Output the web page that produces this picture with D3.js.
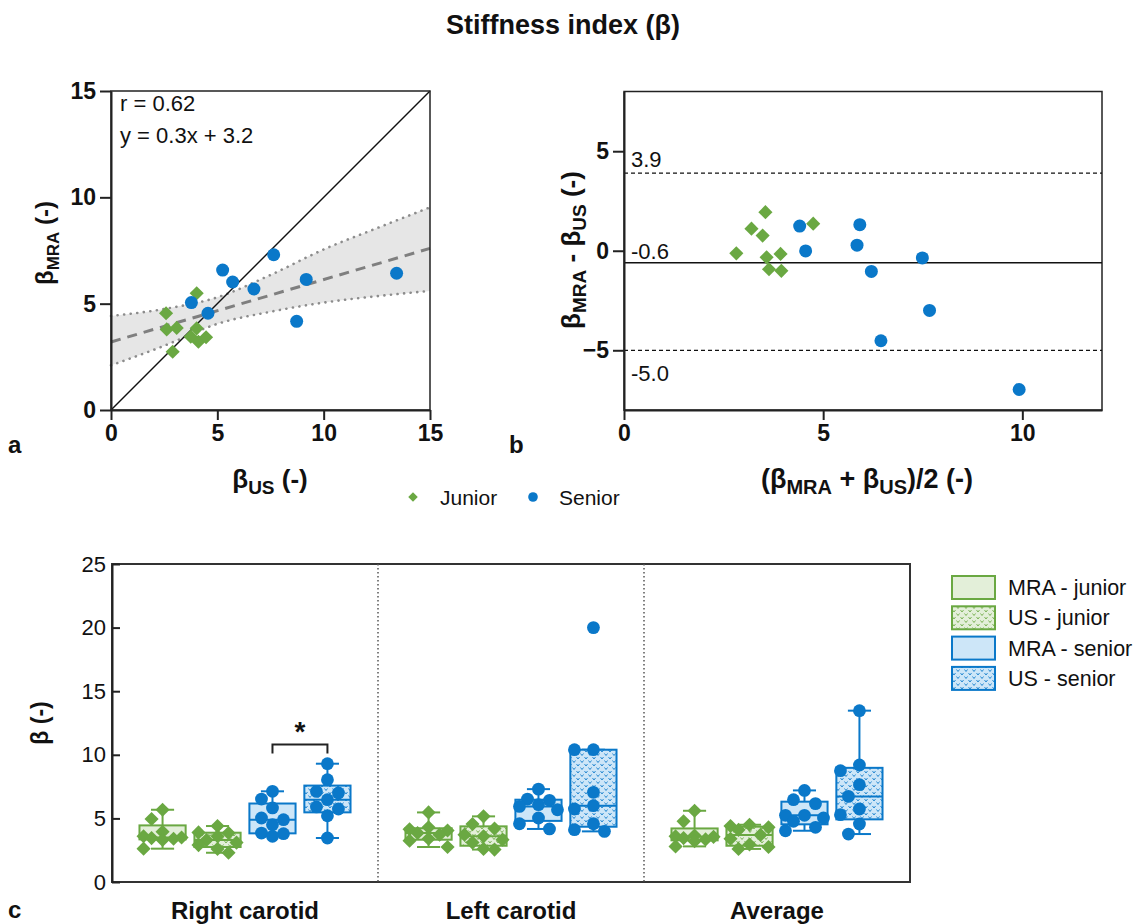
<!DOCTYPE html>
<html><head><meta charset="utf-8">
<script src="https://cdn.jsdelivr.net/npm/d3@7"></script>
<style>body{margin:0;background:#fff;} svg{font-family:"Liberation Sans",Arial,Helvetica,sans-serif;}</style>
</head><body><svg id="c" width="1139" height="924"></svg>
<script>
// ---------- DATA ----------
// Panel a: scatter (x = beta US, y = beta MRA)
const juniorUS  = [4.03, 2.59, 2.62, 3.09, 4.03, 3.75, 4.11, 4.47, 2.90];
const juniorMRA = [5.49, 4.55, 3.79, 3.86, 3.84, 3.45, 3.21, 3.42, 2.74];
const seniorUS  = [7.65, 5.25, 5.72, 6.72, 9.18, 13.43, 8.73, 3.78, 4.56];
const seniorMRA = [7.30, 6.58, 6.02, 5.69, 6.14, 6.43, 4.17, 5.05, 4.55];
const regX   = [0, 15];
const regY   = [3.2, 7.6];
const bandX  = [0, 2.5, 5, 7.5, 10, 12.5, 15];
const bandHi = [4.42, 4.75, 5.3, 6.35, 7.55, 8.55, 9.53];
const bandLo = [2.1, 3.02, 4.05, 4.62, 5.05, 5.35, 5.6];
const statTexts = ["r = 0.62", "y = 0.3x + 3.2"];
const aTicks = [0, 5, 10, 15];

// Panel b: Bland-Altman
const baJuniorMean = [3.55, 3.20, 3.48, 4.75, 2.82, 3.58, 3.93, 3.64, 3.95];
const baJuniorDiff = [1.94, 1.11, 0.76, 1.36, -0.13, -0.33, -0.16, -0.93, -1.01];
const baSeniorMean = [4.41, 4.56, 5.92, 5.85, 7.49, 6.21, 7.67, 6.45, 9.92];
const baSeniorDiff = [1.24, -0.01, 1.31, 0.28, -0.36, -1.04, -3.0, -4.52, -6.97];
const loaValues = [3.9, -0.6, -5.0];
const loaLabels = ["3.9", "-0.6", "-5.0"];
const bXTicks = [0, 5, 10];
const bYTicks = [-5, 0, 5];

// Panel c: box plots
const groups = ["Right carotid", "Left carotid", "Average"];
const seriesNames = ["MRA - junior", "US - junior", "MRA - senior", "US - senior"];
const mraJunior = [[5.68, 4.95, 3.95, 3.6, 3.5, 3.45, 3.4, 3.3, 2.62],
                   [5.47, 4.3, 4.15, 4.05, 3.85, 3.72, 3.4, 3.25, 2.75],
                   [5.6, 4.77, 3.65, 3.6, 3.55, 3.45, 3.35, 3.2, 2.8]];
const usJunior  = [[4.4, 3.9, 3.85, 3.6, 3.3, 3.1, 2.9, 2.6, 2.3],
                   [5.16, 4.55, 4.2, 3.72, 3.59, 3.33, 3.1, 2.6, 2.55],
                   [4.5, 4.4, 4.3, 4.1, 3.7, 3.4, 2.95, 2.75, 2.6]];
const mraSenior = [[7.13, 6.52, 5.82, 5.03, 4.9, 4.5, 3.85, 3.8, 3.59],
                   [7.3, 6.52, 6.42, 6.08, 5.94, 5.68, 5.03, 4.58, 4.17],
                   [7.2, 6.47, 6.16, 5.24, 5.24, 5.03, 4.77, 4.3, 4.03]];
const usSenior  = [[9.3, 8.04, 7.12, 7.0, 6.47, 5.9, 5.74, 5.21, 3.46],
                   [20.0, 10.4, 10.4, 7.05, 6.0, 5.74, 4.58, 4.11, 3.98],
                   [13.47, 9.2, 8.75, 7.65, 6.73, 5.74, 5.29, 4.56, 3.77]];
const cTicks = [0, 5, 10, 15, 20, 25];

// ---------- STYLE ----------
const GREEN = "#6aa842", BLUE = "#0a78c9", LG = "#e3efd9", LB = "#cde6f8";
const svg = d3.select("#c");
const defs = svg.append("defs");
function pattern(id, bg, fg) {
  const p = defs.append("pattern").attr("id", id).attr("width", 8).attr("height", 7)
    .attr("patternUnits", "userSpaceOnUse");
  p.append("rect").attr("width", 8).attr("height", 7).attr("fill", bg);
  p.append("path").attr("d", "M0.5,1 L2,3 L3.5,1 M4.5,4.5 L6,6.5 L7.5,4.5")
    .attr("stroke", fg).attr("fill", "none").attr("stroke-width", 1).attr("opacity", 0.85);
}
pattern("pg", LG, GREEN);
pattern("pb", LB, BLUE);
const seriesStroke = [GREEN, GREEN, BLUE, BLUE];
const seriesFill = [LG, "url(#pg)", LB, "url(#pb)"];

function drawDiamond(g, x, y, color, size) {
  g.append("path").attr("d", d3.symbol(d3.symbolSquare, size || 100)())
    .attr("transform", `translate(${x},${y}) rotate(45)`).attr("fill", color);
}
function drawCircle(g, x, y, color, r) {
  g.append("circle").attr("cx", x).attr("cy", y).attr("r", r || 6.5).attr("fill", color);
}
function styleAxis(g, size, bold) {
  g.selectAll("path.domain").attr("stroke", "#222").attr("stroke-width", 2);
  g.selectAll(".tick line").attr("stroke", "#222").attr("stroke-width", 2);
  g.selectAll(".tick text").attr("font-size", size).attr("font-weight", bold ? "bold" : "normal")
    .attr("fill", "#111").attr("font-family", '"Liberation Sans", Arial, sans-serif');
}
function subText(sel, parts, big, small) {
  let prevSub = false;
  parts.forEach(([t, sub]) => {
    const ts = sel.append("tspan").text(t).attr("font-size", sub ? small : big);
    if (sub && !prevSub) ts.attr("dy", 6);
    if (!sub && prevSub) ts.attr("dy", -6);
    prevSub = sub;
  });
}

// ---------- TITLE ----------
svg.append("text").attr("x", 563).attr("y", 34).attr("text-anchor", "middle")
  .attr("font-size", 27).attr("font-weight", "bold").attr("fill", "#111").text("Stiffness index (β)");

// ---------- PANEL A ----------
const ax = d3.scaleLinear().domain([0, 15]).range([111, 430]);
const ay = d3.scaleLinear().domain([0, 15]).range([410, 91]);
const ga = svg.append("g");
const bandData = bandX.map((x, i) => ({ x, lo: bandLo[i], hi: bandHi[i] }));
ga.append("path").datum(bandData)
  .attr("d", d3.area().x(d => ax(d.x)).y0(d => ay(d.lo)).y1(d => ay(d.hi)).curve(d3.curveMonotoneX))
  .attr("fill", "#e6e6e6");
["lo", "hi"].forEach(k => {
  ga.append("path").datum(bandData)
    .attr("d", d3.line().x(d => ax(d.x)).y(d => ay(d[k])).curve(d3.curveMonotoneX))
    .attr("fill", "none").attr("stroke", "#8c8c8c").attr("stroke-width", 2.6)
    .attr("stroke-dasharray", "0.1,6.5").attr("stroke-linecap", "round");
});
ga.append("line").attr("x1", ax(regX[0])).attr("y1", ay(regY[0])).attr("x2", ax(regX[1])).attr("y2", ay(regY[1]))
  .attr("stroke", "#7f7f7f").attr("stroke-width", 3).attr("stroke-dasharray", "10,7");
ga.append("line").attr("x1", ax(0)).attr("y1", ay(0)).attr("x2", ax(15)).attr("y2", ay(15))
  .attr("stroke", "#111").attr("stroke-width", 1.4);
ga.append("rect").attr("x", 111).attr("y", 91).attr("width", 319).attr("height", 319)
  .attr("fill", "none").attr("stroke", "#222").attr("stroke-width", 1.5);
juniorUS.forEach((x, i) => drawDiamond(ga, ax(x), ay(juniorMRA[i]), GREEN));
seniorUS.forEach((x, i) => drawCircle(ga, ax(x), ay(seniorMRA[i]), BLUE));
statTexts.forEach((t, i) => ga.append("text").attr("x", 120).attr("y", 111 + i * 32)
  .attr("font-size", 22).attr("fill", "#111").text(t));
const axA = ga.append("g").attr("transform", "translate(0,410)")
  .call(d3.axisBottom(ax).tickValues(aTicks).tickSize(10).tickSizeOuter(0).tickPadding(5));
styleAxis(axA, 23, true);
const ayA = ga.append("g").attr("transform", "translate(111,0)")
  .call(d3.axisLeft(ay).tickValues(aTicks).tickSize(11).tickSizeOuter(0).tickPadding(4));
styleAxis(ayA, 23, true);
const xlA = ga.append("text").attr("x", 270).attr("y", 488).attr("text-anchor", "middle")
  .attr("font-weight", "bold").attr("fill", "#111");
subText(xlA, [["β", false], ["US", true], [" (-)", false]], 26, 19);
const ylA = ga.append("text").attr("transform", "translate(53,243) rotate(-90)").attr("text-anchor", "middle")
  .attr("font-weight", "bold").attr("fill", "#111");
subText(ylA, [["β", false], ["MRA", true], [" (-)", false]], 24, 17);
svg.append("text").attr("x", 8).attr("y", 453).attr("font-size", 24).attr("font-weight", "bold").attr("fill", "#111").text("a");

// ---------- PANEL B ----------
const bx = d3.scaleLinear().domain([0, 12]).range([624, 1102]);
const by = d3.scaleLinear().domain([-8, 8]).range([410, 91.5]);
const gb = svg.append("g");
gb.append("rect").attr("x", 624).attr("y", 91.5).attr("width", 478).attr("height", 318.5)
  .attr("fill", "none").attr("stroke", "#222").attr("stroke-width", 1.5);
const loaOffset = [-6, -4, 31];
loaValues.forEach((v, i) => {
  gb.append("line").attr("x1", bx(0)).attr("x2", bx(12)).attr("y1", by(v)).attr("y2", by(v))
    .attr("stroke", "#111").attr("stroke-width", i === 1 ? 1.5 : 1.3)
    .attr("stroke-dasharray", i === 1 ? null : "4,3");
  gb.append("text").attr("x", 631).attr("y", by(v) + loaOffset[i])
    .attr("font-size", 22).attr("fill", "#111").text(loaLabels[i]);
});
baJuniorMean.forEach((m, i) => drawDiamond(gb, bx(m), by(baJuniorDiff[i]), GREEN));
baSeniorMean.forEach((m, i) => drawCircle(gb, bx(m), by(baSeniorDiff[i]), BLUE));
const axB = gb.append("g").attr("transform", "translate(0,410)")
  .call(d3.axisBottom(bx).tickValues(bXTicks).tickSize(10).tickSizeOuter(0).tickPadding(5));
styleAxis(axB, 23, true);
const ayB = gb.append("g").attr("transform", "translate(624,0)")
  .call(d3.axisLeft(by).tickValues(bYTicks).tickSize(11).tickSizeOuter(0).tickPadding(4));
styleAxis(ayB, 23, true);
const xlB = gb.append("text").attr("x", 867).attr("y", 488).attr("text-anchor", "middle")
  .attr("font-weight", "bold").attr("fill", "#111");
subText(xlB, [["(β", false], ["MRA", true], [" + β", false], ["US", true], [")/2 (-)", false]], 27, 20);
const ylB = gb.append("text").attr("transform", "translate(580,250) rotate(-90)").attr("text-anchor", "middle")
  .attr("font-weight", "bold").attr("fill", "#111");
subText(ylB, [["β", false], ["MRA", true], [" - β", false], ["US", true], [" (-)", false]], 26, 19);
svg.append("text").attr("x", 509).attr("y", 453).attr("font-size", 24).attr("font-weight", "bold").attr("fill", "#111").text("b");

// middle legend
const gl = svg.append("g");
drawDiamond(gl, 413, 497, GREEN, 45);
gl.append("text").attr("x", 440).attr("y", 505).attr("font-size", 21).attr("fill", "#111").text("Junior");
drawCircle(gl, 533, 497, BLUE, 4.8);
gl.append("text").attr("x", 559).attr("y", 505).attr("font-size", 21).attr("fill", "#111").text("Senior");

// ---------- PANEL C ----------
const cy = d3.scaleLinear().domain([0, 25]).range([882, 564]);
const gx = d3.scaleBand().domain(groups).range([112, 910]);
const sx = d3.scaleBand().domain(seriesNames).range([0, gx.bandwidth()]).paddingInner(0.16).paddingOuter(0.5);
const gc = svg.append("g");
gc.append("rect").attr("x", 112).attr("y", 564).attr("width", 798).attr("height", 318)
  .attr("fill", "none").attr("stroke", "#333").attr("stroke-width", 2);
groups.slice(1).forEach(g => {
  gc.append("line").attr("x1", gx(g)).attr("x2", gx(g)).attr("y1", 564).attr("y2", 882)
    .attr("stroke", "#555").attr("stroke-width", 1.5).attr("stroke-dasharray", "1.5,2.5");
});
function quant(sorted, p) {
  const n = sorted.length, pos = p * (n + 1) - 1;
  const lo = Math.max(0, Math.min(n - 1, Math.floor(pos))), hi = Math.max(0, Math.min(n - 1, Math.ceil(pos)));
  return sorted[lo] + (sorted[hi] - sorted[lo]) * (pos - Math.floor(pos));
}
function swarm(vals, cx, r) {
  const pts = vals.map(v => ({ v, y: cy(v) })).sort((a, b) => b.v - a.v);
  const placed = [];
  const cands = [0, -11, 11, -19, 19];
  pts.forEach(p => {
    let best = 0, bestD = -1;
    for (const o of cands) {
      let md = Infinity;
      for (const q of placed) md = Math.min(md, Math.hypot(q.x - (cx + o), q.y - p.y));
      if (md >= 2 * r) { best = o; bestD = Infinity; break; }
      if (md > bestD) { bestD = md; best = o; }
    }
    p.x = cx + best; placed.push(p);
  });
  return placed;
}
const allSeries = [mraJunior, usJunior, mraSenior, usSenior];
groups.forEach((g, gi) => {
  seriesNames.forEach((s, si) => {
    const vals = allSeries[si][gi].slice().sort(d3.ascending);
    const q1 = quant(vals, 0.25), med = quant(vals, 0.5), q3 = quant(vals, 0.75);
    const iqr = q3 - q1;
    const inside = vals.filter(v => v >= q1 - 1.5 * iqr && v <= q3 + 1.5 * iqr);
    const wLo = d3.min(inside), wHi = d3.max(inside);
    const x0 = gx(g) + sx(s), bw = sx.bandwidth(), cx = x0 + bw / 2;
    const col = seriesStroke[si];
    const box = gc.append("g");
    box.append("line").attr("x1", cx).attr("x2", cx).attr("y1", cy(q3)).attr("y2", cy(wHi)).attr("stroke", col).attr("stroke-width", 2);
    box.append("line").attr("x1", cx).attr("x2", cx).attr("y1", cy(q1)).attr("y2", cy(wLo)).attr("stroke", col).attr("stroke-width", 2);
    [wLo, wHi].forEach(w => box.append("line").attr("x1", cx - bw / 4).attr("x2", cx + bw / 4)
      .attr("y1", cy(w)).attr("y2", cy(w)).attr("stroke", col).attr("stroke-width", 2));
    box.append("rect").attr("x", x0).attr("y", cy(q3)).attr("width", bw).attr("height", cy(q1) - cy(q3))
      .attr("fill", seriesFill[si]).attr("stroke", col).attr("stroke-width", 2);
    box.append("line").attr("x1", x0).attr("x2", x0 + bw).attr("y1", cy(med)).attr("y2", cy(med))
      .attr("stroke", col).attr("stroke-width", 2);
    const pts = swarm(allSeries[si][gi], cx, si < 2 ? 6.5 : 6.3);
    pts.forEach(p => si < 2 ? drawDiamond(box, p.x, p.y, GREEN, 100) : drawCircle(box, p.x, p.y, BLUE, 6.4));
  });
});
// significance bracket
{
  const g0 = groups[0];
  const xa = gx(g0) + sx(seriesNames[2]) + sx.bandwidth() / 2;
  const xb = gx(g0) + sx(seriesNames[3]) + sx.bandwidth() / 2;
  const yt = cy(10.8), yb = cy(10.1);
  gc.append("path").attr("d", `M${xa},${yb}V${yt}H${xb}V${yb}`).attr("fill", "none")
    .attr("stroke", "#222").attr("stroke-width", 2);
  gc.append("text").attr("x", (xa + xb) / 2).attr("y", yt - 4).attr("text-anchor", "middle")
    .attr("font-size", 28).attr("font-weight", "bold").attr("fill", "#111").text("*");
}
const ayC = gc.append("g").attr("transform", "translate(112,0)")
  .call(d3.axisLeft(cy).tickValues(cTicks).tickSize(-8).tickSizeOuter(0).tickPadding(6));
styleAxis(ayC, 22, false);
groups.forEach(g => gc.append("text").attr("x", gx(g) + gx.bandwidth() / 2).attr("y", 919)
  .attr("text-anchor", "middle").attr("font-size", 24).attr("font-weight", "bold").attr("fill", "#111").text(g));
gc.append("text").attr("transform", "translate(48,723) rotate(-90)").attr("text-anchor", "middle")
  .attr("font-size", 23).attr("font-weight", "bold").attr("fill", "#111").text("β (-)");
svg.append("text").attr("x", 8).attr("y", 918).attr("font-size", 24).attr("font-weight", "bold").attr("fill", "#111").text("c");

// right legend
seriesNames.forEach((s, i) => {
  const y = 576 + i * 30.3;
  gc.append("rect").attr("x", 952).attr("y", y).attr("width", 43).attr("height", 23)
    .attr("fill", seriesFill[i]).attr("stroke", seriesStroke[i]).attr("stroke-width", 2);
  gc.append("text").attr("x", 1008).attr("y", y + 19).attr("font-size", 21.5).attr("fill", "#111").text(s);
});
</script></body></html>
